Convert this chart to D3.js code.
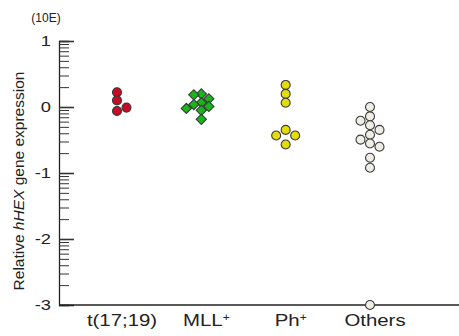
<!DOCTYPE html>
<html>
<head>
<meta charset="utf-8">
<script src="https://cdn.jsdelivr.net/npm/d3@7"></script>
<style>
  body { margin: 0; background: #fff; }
  text { font-family: "Liberation Sans", Arial, sans-serif; fill: #222; }
</style>
</head>
<body>
<svg id="chart" width="459" height="336"></svg>
<script>
// categories and values (relative expression, log scale)
const categories = ["t(17;19)", "MLL+", "Ph+", "Others"];
const t1719 = [1.67, 1.26, 0.98, 0.87];
const mll = [1.58, 1.53, 1.33, 1.16, 1.09, 1.02, 0.95, 0.89, 0.65];
const phPos = [2.16, 1.58, 1.16, 0.45, 0.37, 0.37, 0.27];
const others = [1.0, 0.72, 0.62, 0.53, 0.45, 0.38, 0.32, 0.28, 0.25, 0.17, 0.12, 0.001];
const yTickLabels = ["1", "0", "-1", "-2", "-3"];

const groups = [
  {cat: "t(17;19)", values: t1719, shape: "circle", fill: "#cc0a26"},
  {cat: "MLL+", values: mll, shape: "diamond", fill: "#1cb41c"},
  {cat: "Ph+", values: phPos, shape: "circle", fill: "#e4dc0c"},
  {cat: "Others", values: others, shape: "circle", fill: "#efeee6"}
];

const W = 459, H = 336;
const margin = {top: 41, right: 0, bottom: 31, left: 59};
const svg = d3.select("#chart");

const y = d3.scaleLog().domain([1e-3, 10]).range([H - margin.bottom, margin.top]);
const x = d3.scalePoint().domain(categories).range([117, 370]);

// y axis (log, ticks pointing inward)
const yAxis = d3.axisRight(y).tickFormat("").tickSize(10);
const gy = svg.append("g")
  .attr("transform", `translate(${margin.left},0)`)
  .call(yAxis);
gy.select(".domain").attr("stroke", "#222").attr("stroke-width", 1.3);
gy.selectAll(".tick line")
  .attr("stroke", "#333")
  .attr("x2", d => Number.isInteger(Math.log10(d)) ? 15 : 10)
  .attr("stroke-width", d => Number.isInteger(Math.log10(d)) ? 1.6 : 1);

// exponent labels
const majors = [10, 1, 0.1, 0.01, 0.001];
svg.append("g").selectAll("text")
  .data(majors)
  .join("text")
  .attr("text-anchor", "end")
  .attr("font-size", 15)
  .attr("transform", d => `translate(51,${y(d)}) scale(1.22,1)`)
  .attr("dy", "0.36em")
  .text((d, i) => yTickLabels[i]);

svg.append("text")
  .attr("x", 46).attr("y", 22)
  .attr("text-anchor", "middle")
  .attr("font-size", 12)
  .text("(10E)");

// x axis: plain baseline
const xAxis = d3.axisBottom(x).tickSize(0).tickFormat("");
const gx = svg.append("g")
  .attr("transform", `translate(0,${H - margin.bottom})`)
  .call(xAxis);
gx.select(".domain").attr("d", `M${margin.left},0H${W}`).attr("stroke", "#222").attr("stroke-width", 1.3);

// category labels, "+" raised
const catLab = svg.append("g").selectAll("text")
  .data(categories)
  .join("text")
  .attr("text-anchor", "middle")
  .attr("font-size", 17)
  .attr("transform", d => `translate(${x(d) + 5},326) scale(1.2,1)`);
catLab.each(function(d) {
  const t = d3.select(this);
  if (d.endsWith("+")) {
    t.append("tspan").text(d.slice(0, -1));
    t.append("tspan").attr("font-size", 10).attr("dy", -5).text("+");
  } else {
    t.text(d);
  }
});

// y label
const yl = svg.append("text")
  .attr("transform", `translate(24,${(margin.top + H - margin.bottom) / 2 + 8}) rotate(-90)`)
  .attr("text-anchor", "middle")
  .attr("font-size", 15.5);
yl.append("tspan").text("Relative ");
yl.append("tspan").attr("font-style", "italic").text("hHEX");
yl.append("tspan").text(" gene expression");

// simple dodge: sort by y, push colliding points alternately to each side
function dodge(values, cx, minDist, step, firstSide) {
  const pts = values.map(v => ({v, y: y(v)})).sort((a, b) => a.y - b.y);
  const placed = [];
  let side = firstSide;
  pts.forEach(p => {
    const offs = [0];
    for (let k = 1; k < 5; k++) offs.push(side * k * step, -side * k * step);
    let used = 0;
    for (const o of offs) {
      const ok = placed.every(q => Math.hypot(q.x - (cx + o), q.y - p.y) >= minDist);
      if (ok) { used = o; break; }
    }
    if (used !== 0) side = -side;
    p.x = cx + used;
    placed.push(p);
  });
  return placed;
}

const r = 4.5;
groups.forEach((g, gi) => {
  const dia = g.shape === "diamond";
  const pts = dodge(g.values, x(g.cat), dia ? 7 : 8, dia ? 7.5 : 9.5, gi === 0 ? 1 : -1);
  const sel = svg.append("g").selectAll("path")
    .data(pts)
    .join("path")
    .attr("fill", g.fill)
    .attr("stroke", "#3a3a3a")
    .attr("stroke-width", 1.1);
  if (dia) {
    sel.attr("d", d3.symbol(d3.symbolSquare, 52)())
      .attr("transform", d => `translate(${d.x},${d.y}) rotate(45)`);
  } else {
    sel.attr("d", d3.symbol(d3.symbolCircle, Math.PI * r * r)())
      .attr("transform", d => `translate(${d.x},${d.y})`);
  }
});
</script>
</body>
</html>
